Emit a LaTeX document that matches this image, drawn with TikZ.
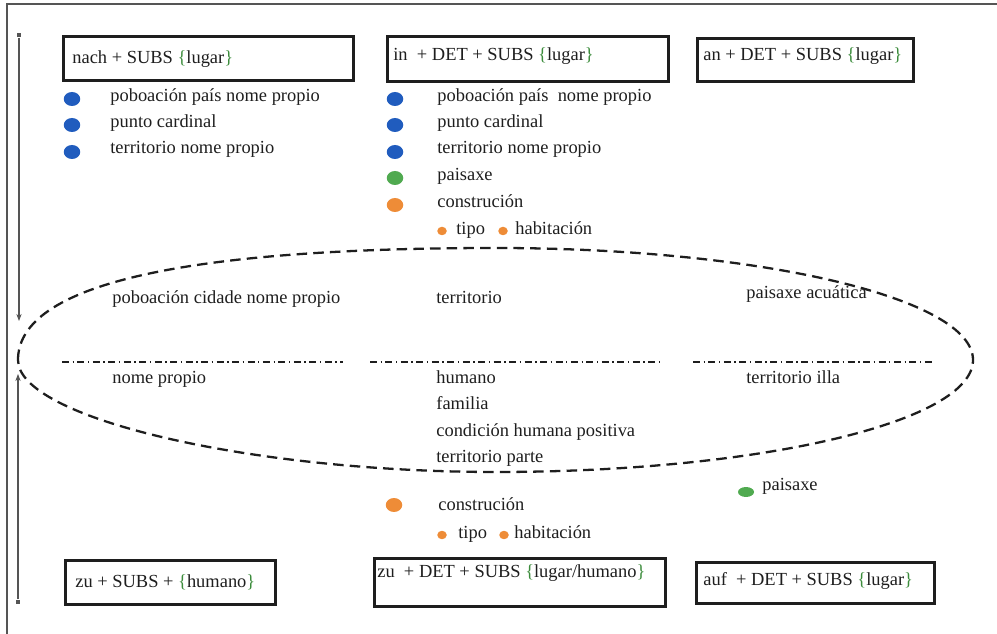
\documentclass[tikz,border=0pt]{standalone}
\usepackage{fontspec}
\setmainfont{Liberation Serif}
\usetikzlibrary{arrows.meta,shapes.geometric}
\definecolor{dotblue}{RGB}{32,92,190}
\definecolor{dotgreen}{RGB}{80,170,80}
\definecolor{dotorange}{RGB}{238,140,55}
\definecolor{bracegreen}{RGB}{60,140,60}
\definecolor{ink}{RGB}{30,30,30}
\definecolor{framegray}{RGB}{85,85,85}
\newcommand{\gb}[1]{\textcolor{bracegreen}{#1}}
\begin{document}
\begin{tikzpicture}[x=0.02cm,y=-0.02cm,
  txt/.style={anchor=base west, inner sep=0pt, text=ink, font=\fontsize{10.5}{12}\selectfont},
  boxshape/.style={draw=ink, line width=1.5pt, inner sep=0pt, anchor=north west},
  bigdot/.style={ellipse, fill=#1, draw=none, minimum width=0.33cm, minimum height=0.28cm, inner sep=0pt},
  smalldot/.style={ellipse, fill=#1, draw=none, minimum width=0.19cm, minimum height=0.17cm, inner sep=0pt},
  flatdot/.style={ellipse, fill=#1, draw=none, minimum width=0.32cm, minimum height=0.2cm, inner sep=0pt},
  sqmark/.style={rectangle, fill=framegray, draw=none, minimum size=0.09cm, inner sep=0pt},
  sidearrow/.style={draw=framegray, line width=0.6pt, -{Stealth[length=4pt,width=3pt]}},
  eggline/.style={draw=ink, line width=1.3pt, dash pattern=on 6pt off 3.5pt},
  dashdotline/.style={draw=ink, line width=0.6pt, dash pattern=on 4pt off 2pt on 0.8pt off 2pt}
]
\useasboundingbox (0,0) rectangle (997,634);
% frame
\draw[framegray, line width=0.7pt] (7,634) -- (7,4) -- (997,4);

% side arrows
\node[sqmark] (sq1) at (19,35) {};
\coordinate (tip1) at (19,321);
\draw[sidearrow] (sq1) -- (tip1);
\node[sqmark] (sq2) at (18,602) {};
\coordinate (tip2) at (18,374);
\draw[sidearrow] (sq2) -- (tip2);

% top boxes
\node[boxshape, minimum width=5.80cm, minimum height=0.88cm] (b1) at (62,35) {};
\node[txt] (b1t) at (72,64) {nach + SUBS \gb{\{}lugar\gb{\}}};
\node[boxshape, minimum width=5.62cm, minimum height=0.90cm] (b2) at (386,35) {};
\node[txt] (b2t) at (393,61) {in\ \ + DET + SUBS \gb{\{}lugar\gb{\}}};
\node[boxshape, minimum width=4.32cm, minimum height=0.86cm] (b3) at (696,37) {};
\node[txt] (b3t) at (703,61) {an + DET + SUBS \gb{\{}lugar\gb{\}}};

% bottom boxes
\node[boxshape, minimum width=4.20cm, minimum height=0.88cm] (b4) at (64,559) {};
\node[txt] (b4t) at (75,587) {zu + SUBS + \gb{\{}humano\gb{\}}};
\node[boxshape, minimum width=5.82cm, minimum height=0.96cm] (b5) at (373,557) {};
\node[txt] (b5t) at (377,577) {zu\ \ + DET + SUBS \gb{\{}lugar/humano\gb{\}}};
\node[boxshape, minimum width=4.76cm, minimum height=0.82cm] (b6) at (695,561) {};
\node[txt] (b6t) at (703,585) {auf\ \ + DET + SUBS \gb{\{}lugar\gb{\}}};

% left list
\node[bigdot=dotblue] (l1d) at (72,99) {};
\node[txt] (l1) at (110,102) {poboación país nome propio};
\node[bigdot=dotblue] (l2d) at (72,125) {};
\node[txt] (l2) at (110,128) {punto cardinal};
\node[bigdot=dotblue] (l3d) at (72,152) {};
\node[txt] (l3) at (110,154) {territorio nome propio};

% middle list
\node[bigdot=dotblue] (m1d) at (395,99) {};
\node[txt] (m1) at (437,102) {poboación país\ \ nome propio};
\node[bigdot=dotblue] (m2d) at (395,125) {};
\node[txt] (m2) at (437,128) {punto cardinal};
\node[bigdot=dotblue] (m3d) at (395,152) {};
\node[txt] (m3) at (437,154) {territorio nome propio};
\node[bigdot=dotgreen] (m4d) at (395,178) {};
\node[txt] (m4) at (437,181) {paisaxe};
\node[bigdot=dotorange] (m5d) at (395,205) {};
\node[txt] (m5) at (437,208) {construción};
\node[smalldot=dotorange] (m6d) at (442,231) {};
\node[txt] (m6) at (456,235) {tipo};
\node[smalldot=dotorange] (m7d) at (503,231) {};
\node[txt] (m7) at (515,235) {habitación};

% egg-shaped dashed outline
\draw[eggline] (18,360) .. controls (18,290) and (160,248) .. (496,248)
  .. controls (759,248) and (973,298) .. (973,360)
  .. controls (973,422) and (759,472) .. (496,472)
  .. controls (250,472) and (18,418) .. (18,360) -- cycle;

% inside texts
\node[txt] (e1) at (112,304) {poboación cidade nome propio};
\node[txt] (e2) at (436,304) {territorio};
\node[txt] (e3) at (746,299) {paisaxe acuática};
\coordinate (d1a) at (62,362); \coordinate (d1b) at (343,362);
\coordinate (d2a) at (370,362); \coordinate (d2b) at (663,362);
\coordinate (d3a) at (693,362); \coordinate (d3b) at (933,362);
\draw[dashdotline] (d1a) -- (d1b);
\draw[dashdotline] (d2a) -- (d2b);
\draw[dashdotline] (d3a) -- (d3b);
\node[txt] (e4) at (112,384) {nome propio};
\node[txt] (e5) at (436,384) {humano};
\node[txt] (e6) at (436,410) {familia};
\node[txt] (e7) at (436,437) {condición humana positiva};
\node[txt] (e8) at (436,463) {territorio parte};
\node[txt] (e9) at (746,384) {territorio illa};

% lower lists
\node[bigdot=dotorange] (c1d) at (394,505) {};
\node[txt] (c1) at (438,511) {construción};
\node[smalldot=dotorange] (c2d) at (442,535) {};
\node[txt] (c2) at (458,539) {tipo};
\node[smalldot=dotorange] (c3d) at (504,535) {};
\node[txt] (c3) at (514,539) {habitación};
\node[flatdot=dotgreen] (g1d) at (746,492) {};
\node[txt] (g1) at (762,491) {paisaxe};
\end{tikzpicture}
\end{document}
